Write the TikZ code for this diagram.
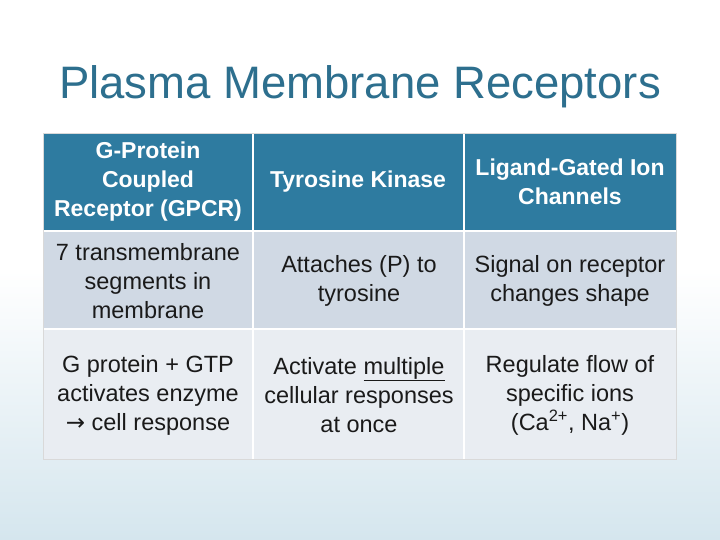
\documentclass[tikz,border=0pt]{standalone}
\usepackage{fontspec}
\setmainfont{Liberation Sans}
\definecolor{hdr}{HTML}{2E7BA0}
\definecolor{rowa}{HTML}{D0D9E4}
\definecolor{rowb}{HTML}{E9EDF2}
\definecolor{ttl}{HTML}{2D6F8E}
\definecolor{txt}{HTML}{1A1A1A}
\definecolor{bgb}{HTML}{D5E6EE}
\begin{document}
\begin{tikzpicture}[x=1pt,y=-1pt,
  cell/.style={align=center,font=\fontsize{23.5}{29}\selectfont,text=txt},
  hcell/.style={align=center,font=\bfseries\fontsize{23}{29}\selectfont,text=white}]
\useasboundingbox (0,0) rectangle (720,540);
\shade[top color=white,bottom color=bgb,middle color=white] (0,0) rectangle (720,540);
\node[text=ttl,font=\fontsize{45.5}{52}\selectfont] (title) at (360,87) {Plasma Membrane Receptors};
\fill[hdr] (43,133) rectangle (676,231);
\fill[rowa] (43,231) rectangle (676,329);
\fill[rowb] (43,329) rectangle (676,459);
\draw[white,line width=2pt] (43,231) -- (676,231) (43,329) -- (676,329)
  (253,133) -- (253,459) (464,133) -- (464,459);
\draw[white!85!black,line width=0.8pt] (43,133) rectangle (676,459);
\node[hcell] (h1) at (148,182) {G-Protein\\Coupled\\Receptor (GPCR)};
\node[hcell] (h2) at (358,182) {Tyrosine Kinase};
\node[hcell] (h3) at (570,182) {Ligand-Gated Ion\\Channels};
\node[cell] (a1) at (148,281) {7 transmembrane\\segments in\\membrane};
\node[cell] (a2) at (359,281) {Attaches (P) to\\tyrosine};
\node[cell] (a3) at (570,281) {Signal on receptor\\changes shape};
\node[cell] (b1) at (148,395) {G protein + GTP\\activates enzyme\\{\fontspec{DejaVu Sans}\fontsize{23}{20}\selectfont →} cell response};
\node[cell] (b2) at (359,395) {Activate \underline{multiple}\\cellular responses\\at once};
\node[cell] (b3) at (570,395) {Regulate flow of\\specific ions\\(Ca\textsuperscript{2+}, Na\textsuperscript{+})};
\end{tikzpicture}
\end{document}
